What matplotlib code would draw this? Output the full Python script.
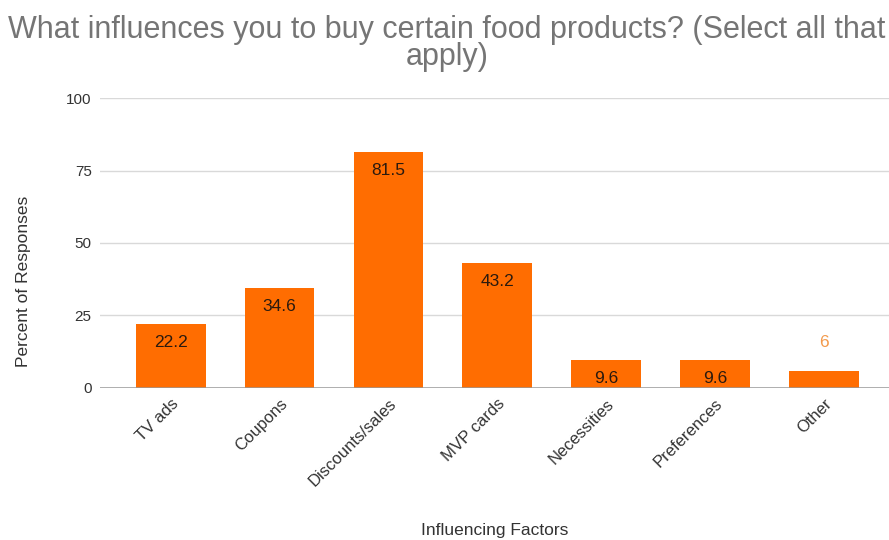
import matplotlib.pyplot as plt
from matplotlib.ticker import FixedLocator

plt.rcParams['font.family'] = ['Liberation Sans', 'DejaVu Sans']

factors = ["TV ads", "Coupons", "Discounts/sales", "MVP cards",
           "Necessities", "Preferences", "Other"]
percents = [22.2, 34.6, 81.5, 43.2, 9.6, 9.6, 6]
yticks = [0, 25, 50, 75, 100]

bar_color = "#ff6d01"
grid_color = "#d9d9d9"
text_color = "#333333"

fig = plt.figure(figsize=(8.89, 5.40), dpi=100)
ax = fig.add_axes([0.1125, 0.2815, 0.8875, 0.537])

x = range(len(factors))
bars = ax.bar(x, percents, width=0.64, color=bar_color, zorder=3)

# value labels: inside the top of the bar when it fits, otherwise above in orange
for rect, v in zip(bars, percents):
    cx = rect.get_x() + rect.get_width() / 2
    label = f"{v:g}"
    if v >= 9:
        ax.annotate(label, (cx, v), xytext=(0, -13.5), textcoords="offset points",
                    ha="center", va="center", fontsize=12.5, color="#2b1a0e", zorder=4)
    else:
        ax.annotate(label, (cx, v), xytext=(0, 20), textcoords="offset points",
                    ha="center", va="center", fontsize=12.5, color="#f39a4c", zorder=4)

ax.set_xlim(-0.65, 6.6)
ax.set_ylim(0, 100)
ax.yaxis.set_major_locator(FixedLocator(yticks))
ax.set_yticklabels([str(t) for t in yticks])
ax.grid(axis="y", color=grid_color, linewidth=1, zorder=0)
ax.axhline(0, color="#999999", linewidth=1.8, zorder=4)

for s in ax.spines.values():
    s.set_visible(False)
ax.tick_params(axis="both", length=0, colors=text_color)
ax.tick_params(axis="y", pad=6, labelsize=11)

ax.set_xticks(list(x))
ax.set_xticklabels(factors, rotation=45, ha="right", va="top",
                   rotation_mode="anchor", fontsize=12)
ax.tick_params(axis="x", pad=6)

ax.set_ylabel("Percent of Responses", fontsize=12.5, color=text_color)
ax.yaxis.set_label_coords(-0.088, 0.369)
ax.set_xlabel("Influencing Factors", fontsize=12.5, color=text_color, labelpad=24)

fig.suptitle("What influences you to buy certain food products? (Select all that\napply)",
             x=0.503, y=0.973, fontsize=22, color="#757575", linespacing=0.9)

fig.savefig("out.png", dpi=100)
